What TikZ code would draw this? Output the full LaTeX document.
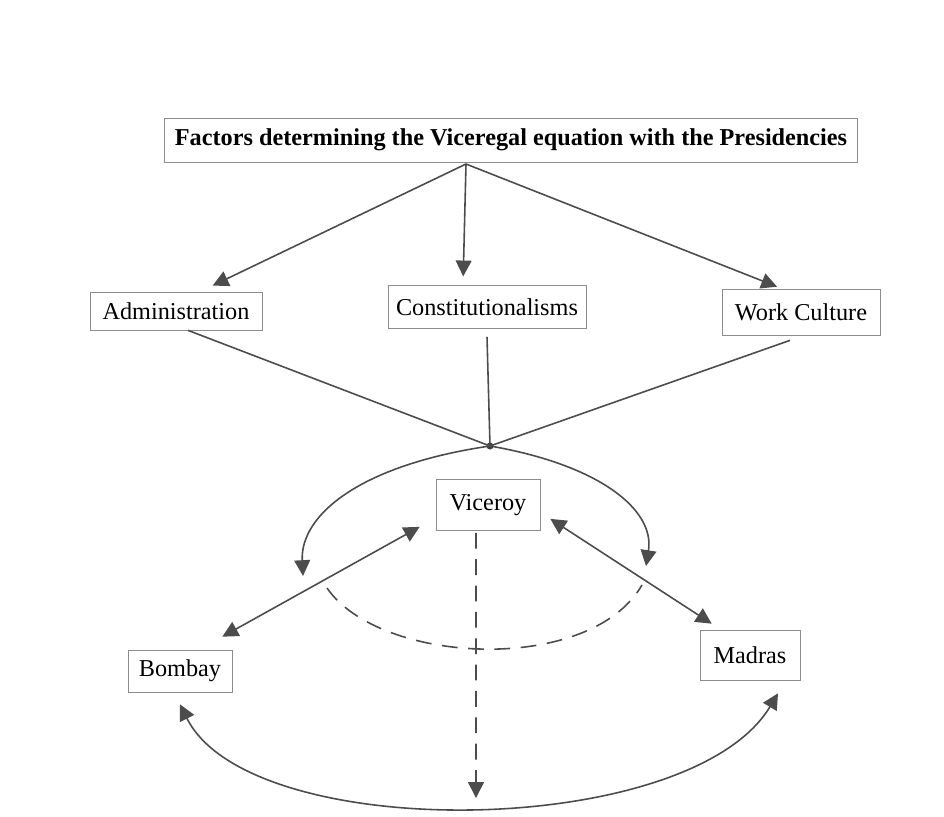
\documentclass[tikz,border=0pt]{standalone}
\usepackage{fontspec}
\setmainfont{Liberation Serif}
\usetikzlibrary{arrows.meta,positioning}

\begin{document}
\begin{tikzpicture}[x=0.02cm,y=-0.02cm,
    box/.style={draw=black!45, fill=white, inner sep=0pt,
        font=\fontsize{13.8}{16}\selectfont},
    link/.style={draw=black!70, line width=0.9pt},
    tip/.style={-{Triangle[length=9pt,width=9pt]}},
    tips/.style={{Triangle[length=9pt,width=9pt]}-{Triangle[length=9pt,width=9pt]}},
    dashline/.style={dash pattern=on 9pt off 6pt}]

    \useasboundingbox[fill=white] (0,0) rectangle (944,816);

    % boxes
    \node[box, minimum width=13.86cm, minimum height=0.88cm,
          font=\fontsize{13.8}{17}\selectfont\bfseries] (title) at (511,140)
          {Factors determining the Viceregal equation with the Presidencies};
    \node[box, minimum width=3.44cm, minimum height=0.76cm] (admin) at (176,311) {Administration};
    \node[box, minimum width=3.96cm, minimum height=0.86cm] (const) at (487,307) {Constitutionalisms};
    \node[box, minimum width=3.16cm, minimum height=0.92cm] (work) at (801,312) {Work Culture};
    \node[box, minimum width=2.08cm, minimum height=1.02cm] (vic) at (488,505) {Viceroy};
    \node[box, minimum width=2.08cm, minimum height=0.84cm] (bom) at (180,671) {Bombay};
    \node[box, minimum width=2.0cm, minimum height=1.0cm] (mad) at (750,655) {Madras};

    % points
    \coordinate (fork) at (466,164);
    \coordinate (hub) at (490,446);
    \coordinate (lft) at (303,576);
    \coordinate (rgt) at (646,566);
    \coordinate (arcl) at (327,588);
    \coordinate (arcr) at (642,585);
    \coordinate (down) at (476,798);
    \fill[black!75] (hub) circle (2pt);

    % factors
    \draw[link,tip,shorten >=8pt] (fork) -- ([xshift=0.48cm]admin.north);
    \draw[link,tip,shorten >=5pt] (fork) -- ([xshift=-0.48cm]const.north);
    \draw[link,tip,shorten >=3pt] (fork) -- ([xshift=-0.38cm]work.north);

    % into the viceroy
    \draw[link] ([xshift=0.24cm]admin.south) -- (hub);
    \draw[link] ([yshift=-0.16cm]const.south) -- (hub);
    \draw[link] ([xshift=-0.22cm,yshift=-0.1cm]work.south) -- (hub);
    \draw[link,tip] (hub) .. controls (360,465) and (300,515) .. (lft);
    \draw[link,tip] (hub) .. controls (600,465) and (655,510) .. (rgt);

    % presidencies
    \draw[link,tips] ([xshift=-0.32cm,yshift=0.08cm]vic.south west)
        -- ([xshift=-0.2cm,yshift=0.26cm]bom.north east);
    \draw[link,tips] ([xshift=0.2cm,yshift=0.24cm]vic.south east)
        -- ([xshift=0.24cm,yshift=0.12cm]mad.north west);
    \draw[link,dashline] (arcl) .. controls (380,665) and (590,675) .. (arcr);
    \draw[link,dashline,tip] ([xshift=-0.24cm,yshift=-0.04cm]vic.south) -- (down);
    \draw[link,tips] ([yshift=-0.24cm]bom.south)
        .. controls (250,845) and (690,840) .. ([xshift=0.56cm,yshift=-0.26cm]mad.south);
\end{tikzpicture}
\end{document}
